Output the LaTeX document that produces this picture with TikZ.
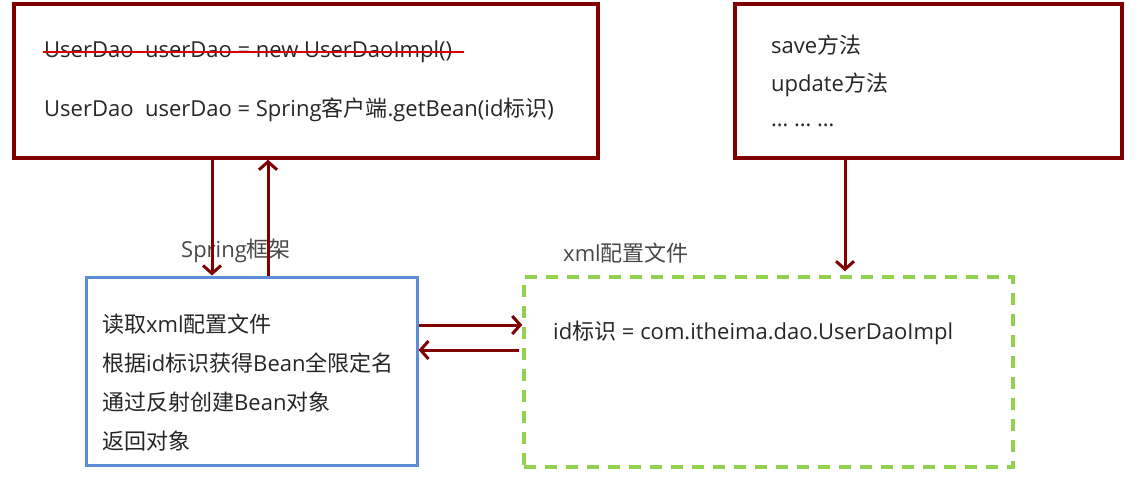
\documentclass[tikz,border=0pt]{standalone}
\usepackage{fontspec}
\setmainfont{Open Sans}
\newfontfamily\cjk{Noto Sans CJK SC}
\newcommand{\zh}[1]{{\cjk #1}}
\usepackage{xcolor}
\usepackage{tikz}
\usetikzlibrary{arrows.meta}
\usetikzlibrary{positioning}
\definecolor{darkred}{RGB}{128,0,0}
\definecolor{boxblue}{RGB}{91,142,214}
\definecolor{boxgreen}{RGB}{146,208,80}
\definecolor{txtgray}{RGB}{38,38,38}
\tikzset{
  redbox/.style = {draw=darkred, line width=3.5pt, rectangle, inner sep=0pt},
  bluebox/.style = {draw=boxblue, line width=3pt, rectangle, inner sep=0pt},
  greenbox/.style = {draw=boxgreen, line width=3.5pt, rectangle, inner sep=0pt,
                     dash pattern=on 12pt off 9pt},
  item/.style = {anchor=west, inner sep=0pt, text=txtgray,
                 font=\fontsize{22}{26}\selectfont},
  caption/.style = {inner sep=0pt, text=txtgray!85,
                    font=\fontsize{22}{26}\selectfont},
  flow/.style = {draw=darkred, line width=3pt,
                 -{Straight Barb[length=8pt,width=18pt,line width=3pt]}},
  strike/.style = {draw=red!85!black, line width=1.6pt}
}

\begin{document}
\begin{tikzpicture}[x=1pt, y=-1pt]
\useasboundingbox (0,0) rectangle (1148,484);
% boxes
\node[redbox, minimum width=584pt, minimum height=154pt] (code) at (306,81) {};
\node[redbox, minimum width=387pt, minimum height=154pt] (methods) at (928.5,81) {};
\node[bluebox, minimum width=331pt, minimum height=188pt] (spring) at (251.5,371) {};
\node[greenbox, minimum width=489pt, minimum height=190pt] (xml) at (768.5,372) {};
% captions
\node[caption] (springcap) at (236,251) {Spring\zh{框架}};
\node[caption] (xmlcap) at (626,253) {xml\zh{配置文件}};
% texts of the code box
\node[item] (oldcode) at (44,52) {UserDao\ \ userDao = new UserDaoImpl()};
\node[item] (newcode) at (44,110) {UserDao\ \ userDao = Spring\zh{客户端}.getBean(id\zh{标识})};
\draw[strike] ([xshift=-1pt]oldcode.west) -- ([xshift=12pt]oldcode.east);
% texts of the methods box
\foreach \txt [count=\i] in {save\zh{方法}, update\zh{方法}, \dots\ \dots\ \dots} {
  \node[item] (m\i) at (771, 45+40*\i-40) {\txt};
}
% texts of the spring box
\foreach \txt [count=\i] in {\zh{读取}xml\zh{配置文件}, \zh{根据}id\zh{标识获得}Bean\zh{全限定名},
                              \zh{通过反射创建}Bean\zh{对象}, \zh{返回对象}} {
  \node[item] (s\i) at (102, 324+39*\i-39) {\txt};
}
% text of the xml box
\node[item] (entry) at (553,333) {id\zh{标识} = com.itheima.dao.UserDaoImpl};
% connectors
\draw[flow] ([xshift=-94pt]code.south) -- ([xshift=-39.5pt]spring.north);
\draw[flow] ([xshift=16.5pt]spring.north) -- ([xshift=-38pt]code.south);
\draw[flow] ([yshift=46pt]spring.east) -- ([yshift=47pt]xml.west);
\draw[flow] ([yshift=22pt,xshift=-3pt]xml.west) -- ([yshift=21pt]spring.east);
\draw[flow] ([xshift=-83.5pt]methods.south) -- ([xshift=76.5pt,yshift=4pt]xml.north);
\end{tikzpicture}
\end{document}
